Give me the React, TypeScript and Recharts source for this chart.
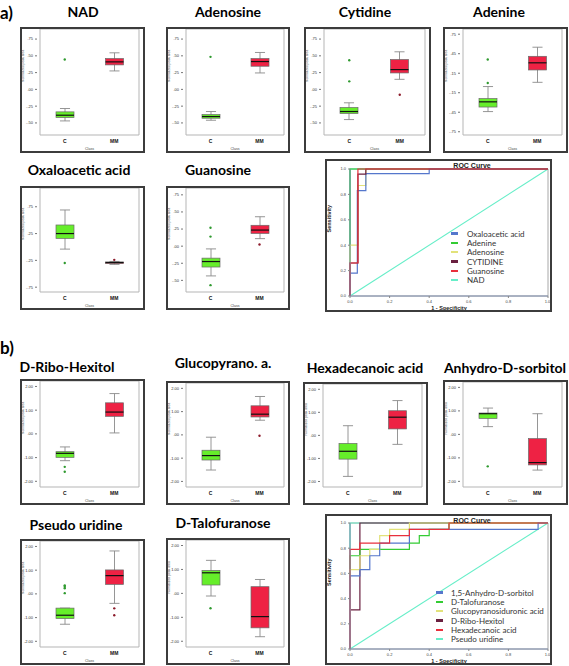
import React from "react";
import { ComposedChart, Bar, Scatter, XAxis, YAxis, ReferenceArea, LineChart, Line, Legend } from "recharts";

const CLASSES = ["C", "MM"];

// cada caja: [min, q1, mediana, q3, max] para C y MM
const nadBox = [[-0.47, -0.42, -0.385, -0.335, -0.285], [0.275, 0.365, 0.41, 0.46, 0.545]];
const nadOut = [[0.445], []];
const adenosineBox = [[-0.46, -0.43, -0.405, -0.375, -0.33], [0.245, 0.345, 0.415, 0.46, 0.55]];
const adenosineOut = [[0.485], []];
const cytidineBox = [[-0.45, -0.36, -0.33, -0.27, -0.2], [0.15, 0.245, 0.295, 0.445, 0.56]];
const cytidineOut = [[0.435, 0.12], [-0.08]];
const adenineBox = [[-0.44, -0.37, -0.29, -0.24, -0.055], [0.01, 0.2, 0.31, 0.41, 0.55]];
const adenineOut = [[0.36, 0.0], []];
const oxaloBox = [[-0.04, 0.16, 0.25, 0.41, 0.69], [-0.325, -0.31, -0.29, -0.28, -0.27]];
const oxaloOut = [[-0.3], [-0.24]];
const guanosineBox = [[-0.435, -0.305, -0.225, -0.175, -0.04], [0.11, 0.185, 0.235, 0.305, 0.43]];
const guanosineOut = [[0.27, 0.14, -0.57], [0.025]];

const riboBox = [[-1.13, -0.99, -0.82, -0.75, -0.55], [0.04, 0.74, 0.92, 1.31, 1.7]];
const riboOut = [[-1.39, -1.6], []];
const glucoBox = [[-1.51, -1.08, -0.89, -0.66, -0.1], [0.63, 0.77, 0.89, 1.25, 1.65]];
const glucoOut = [[], [-0.04]];
const hexaBox = [[-1.78, -1.03, -0.69, -0.35, 0.42], [-0.39, 0.28, 0.79, 1.07, 1.51]];
const hexaOut = [[], []];
const anhydroBox = [[0.33, 0.68, 0.88, 0.91, 1.12], [-1.52, -1.3, -1.2, -0.18, 0.88]];
const anhydroOut = [[-1.36], []];
const pseudoBox = [[-1.28, -1.04, -0.9, -0.6, -0.6], [-0.4, 0.4, 0.77, 1.01, 1.81]];
const pseudoOut = [[0.36, 0.3, 0.24, 0.03], [-0.61, -0.9]];
const taloBox = [[-0.11, 0.35, 0.86, 0.96, 1.38], [-1.81, -1.44, -0.97, 0.28, 0.58]];
const taloOut = [[-0.62], []];

const TICKS_Q = [-0.5, -0.25, 0, 0.25, 0.5, 0.75];
const TICKS_ADENINE = [-0.75, -0.45, -0.15, 0.15, 0.45, 0.75];
const TICKS_OXALO = [-0.75, -0.25, 0.25, 0.75];
const TICKS_B = [-2, -1, 0, 1, 2];
const ROC_TICKS = [0, 0.2, 0.4, 0.6, 0.8, 1];

// curvas ROC (1 - especificidad, sensibilidad)
const rocOxalo = [[0, 0], [0, 0.18], [0.037, 0.18], [0.037, 0.83], [0.08, 0.83], [0.08, 0.963], [0.4, 0.963], [0.4, 1], [1, 1]];
const rocAdenine = [[0, 0], [0, 1], [1, 1]];
const rocAdenosine = [[0, 0], [0, 0.4], [0.04, 0.4], [0.04, 0.87], [0.08, 0.87], [0.08, 1], [1, 1]];
const rocCytidine = [[0, 0], [0, 0.26], [0.04, 0.26], [0.04, 0.96], [0.08, 0.96], [0.08, 1], [1, 1]];
const rocGuanosine = [[0, 0], [0, 0.26], [0.04, 0.26], [0.04, 1], [1, 1]];
const rocNad = [[0, 0], [0, 1], [1, 1]];

const rocAnhydro = [[0, 0], [0, 0.58], [0.05, 0.58], [0.05, 0.63], [0.1, 0.63], [0.1, 0.74], [0.15, 0.74], [0.15, 0.84], [0.3, 0.84], [0.3, 0.95], [0.95, 0.95], [0.95, 1], [1, 1]];
const rocTalo = [[0, 0], [0, 0.74], [0.05, 0.74], [0.05, 0.79], [0.3, 0.79], [0.3, 0.84], [0.35, 0.84], [0.35, 0.9], [0.4, 0.9], [0.4, 0.95], [0.5, 0.95], [0.5, 1], [1, 1]];
const rocGluco = [[0, 0], [0, 0.63], [0.05, 0.63], [0.05, 0.74], [0.1, 0.74], [0.1, 0.79], [0.15, 0.79], [0.15, 0.9], [0.2, 0.9], [0.2, 0.95], [0.3, 0.95], [0.3, 1], [1, 1]];
const rocRibo = [[0, 0], [0, 0.31], [0.05, 0.31], [0.05, 1], [1, 1]];
const rocHexa = [[0, 0], [0, 0.79], [0.05, 0.79], [0.05, 0.84], [0.2, 0.84], [0.2, 0.9], [0.3, 0.9], [0.3, 0.95], [0.5, 0.95], [0.5, 1], [1, 1]];
const rocPseudo = [[0, 0], [0, 1], [1, 1]];
const rocDiag = [[0, 0], [1, 1]];

const GREEN = "#66ee2a";
const RED = "#ee2244";
const SMALL = "'Liberation Sans', Arial, sans-serif";
const TITLE = "Lato, 'Open Sans', sans-serif";

const fmtTick = (v: number) => {
  let s = Math.abs(v).toFixed(2);
  if (s.startsWith("0")) s = s.slice(1);
  return (v < 0 ? "-" : "") + s;
};

function Whisker(props: any) {
  const { x, y, width, height } = props;
  const top = Math.min(y, y + height);
  const bot = Math.max(y, y + height);
  const cx = x + width / 2;
  const cap = width * 0.28;
  return (
    <g stroke="#8a8a8a" strokeWidth={0.9}>
      <line x1={cx} x2={cx} y1={top} y2={bot} />
      <line x1={cx - cap} x2={cx + cap} y1={top} y2={top} />
      <line x1={cx - cap} x2={cx + cap} y1={bot} y2={bot} />
    </g>
  );
}

function BoxShape(props: any) {
  const { x, y, width, height, payload } = props;
  const top = Math.min(y, y + height);
  const bot = Math.max(y, y + height);
  const [lo, hi] = payload.iqr;
  const my = hi === lo ? (top + bot) / 2 : top + ((bot - top) * (hi - payload.med)) / (hi - lo);
  return (
    <g>
      <rect x={x} y={top} width={width} height={Math.max(bot - top, 0.8)} fill={payload.fill} stroke="#6a6a6a" strokeWidth={0.7} />
      <line x1={x} x2={x + width} y1={my} y2={my} stroke="#111" strokeWidth={1.2} />
    </g>
  );
}

function OutDot(props: any) {
  const { cx, cy, payload } = props;
  if (!Number.isFinite(cx) || !Number.isFinite(cy)) return <g />;
  return <circle cx={cx} cy={cy} r={1.2} fill={payload.cls === "C" ? "#2f9a2f" : "#8c1b2b"} />;
}

function BoxPanel({ p }: { p: any }) {
  const data = CLASSES.map((cls, i) => ({
    cls,
    whisk: [p.box[i][0], p.box[i][4]],
    iqr: [p.box[i][1], p.box[i][3]],
    med: p.box[i][2],
    fill: i === 0 ? GREEN : RED,
    o1: p.out[i][0],
    o2: p.out[i][1],
    o3: p.out[i][2],
    o4: p.out[i][3],
  }));
  const pad = { left: 3, right: 3 };
  return (
    <>
      <div style={{ position: "absolute", left: p.tx - 63, top: p.ty - 9, width: 126, lineHeight: "18px", textAlign: "center", whiteSpace: "nowrap", fontFamily: TITLE, fontWeight: 700, fontSize: 14 }}>
        {p.title}
      </div>
      <div style={{ position: "absolute", left: p.left, top: p.top, width: p.w, height: p.h, boxSizing: "border-box", border: "2px solid #3c3c3c", background: "#fff" }}>
        <ComposedChart width={p.w - 4} height={p.h - 4} data={data} margin={{ top: 0, right: 1, bottom: 0, left: 0 }}>
          <XAxis xAxisId="main" dataKey="cls" height={16} padding={pad} axisLine={false} tickLine={false} tickSize={2}
            tick={{ fontSize: 5, fontWeight: 700, fill: "#111", fontFamily: SMALL }}
            label={{ value: "Class", position: "insideBottom", offset: 1, fontSize: 3.6, fill: "#444", fontFamily: SMALL }} />
          <XAxis xAxisId="w" dataKey="cls" hide height={0} orientation="top" padding={pad} />
          <XAxis xAxisId="b" dataKey="cls" hide height={0} orientation="top" padding={pad} />
          <YAxis width={15} domain={p.domain} ticks={p.ticks} tickFormatter={fmtTick} axisLine={false} tickSize={2}
            tickLine={{ stroke: "#777" }} tick={{ fontSize: 4, fill: "#333", fontFamily: SMALL }}
            label={{ value: "Normalized peak area", angle: -90, position: "insideLeft", offset: 1, fontSize: 3.3, fill: "#444", fontFamily: SMALL }} />
          <ReferenceArea xAxisId="main" y1={p.domain[0]} y2={p.domain[1]} fill="#fff" fillOpacity={1} stroke="#b5b5b5" strokeWidth={1} />
          <Bar xAxisId="w" dataKey="whisk" barSize={18} shape={Whisker} isAnimationActive={false} />
          <Bar xAxisId="b" dataKey="iqr" barSize={18} shape={BoxShape} isAnimationActive={false} />
          {["o1", "o2", "o3", "o4"].map((k) => (
            <Scatter key={k} xAxisId="main" dataKey={k} shape={OutDot} isAnimationActive={false} />
          ))}
        </ComposedChart>
      </div>
    </>
  );
}

function RocLegend({ payload, order, gap }: any) {
  const items = order.map((n: string) => (payload || []).find((it: any) => it.value === n)).filter(Boolean);
  return (
    <div style={{ fontFamily: TITLE, fontSize: 8, color: "#333" }}>
      {items.map((it: any) => (
        <div key={it.value} style={{ display: "flex", alignItems: "center", height: 9.3, whiteSpace: "nowrap" }}>
          <span style={{ display: "inline-block", width: 7, height: 2.5, background: it.color, marginRight: gap }} />
          <span>{it.value}</span>
        </div>
      ))}
    </div>
  );
}

function RocPanel({ r }: { r: any }) {
  const toPts = (a: number[][]) => a.map(([x, y]) => ({ x, y }));
  const order = r.series.map((s: any) => s.name);
  return (
    <div style={{ position: "absolute", left: r.left, top: r.top, width: r.w, height: r.h, boxSizing: "border-box", border: "2px solid #3c3c3c", background: "#fff" }}>
      <div style={{ position: "absolute", left: 145 - 40, top: r.titleY, width: 80, textAlign: "center", fontFamily: SMALL, fontWeight: 700, fontSize: 7, lineHeight: "8px", color: "#222", zIndex: 2 }}>
        ROC Curve
      </div>
      <LineChart width={r.w - 4} height={r.h - 4} margin={{ top: r.mt, right: 2, bottom: 0, left: 0 }}>
        <XAxis dataKey="x" type="number" domain={[0, 1]} ticks={ROC_TICKS} tickFormatter={(v: number) => v.toFixed(1)} height={14}
          axisLine={{ stroke: "#8090b0" }} tickSize={2} tickLine={{ stroke: "#888" }} tick={{ fontSize: 4, fill: "#444", fontFamily: SMALL }}
          label={{ value: "1 - Specificity", position: "insideBottom", offset: 0, fontSize: 5.5, fontWeight: 700, fill: "#222", fontFamily: SMALL }} />
        <YAxis type="number" domain={[0, 1]} ticks={ROC_TICKS} tickFormatter={(v: number) => v.toFixed(1)} width={23}
          axisLine={{ stroke: "#8090b0" }} tickSize={2} tickLine={{ stroke: "#888" }} tick={{ fontSize: 4, fill: "#444", fontFamily: SMALL }}
          label={{ value: "Sensitivity", angle: -90, position: "insideLeft", offset: 2, fontSize: 5.5, fontWeight: 700, fill: "#222", fontFamily: SMALL }} />
        <ReferenceArea x1={0} x2={1} y1={0} y2={1} fill="none" stroke="#a8a8a8" strokeWidth={1} />
        <Line data={toPts(rocDiag)} dataKey="y" name="Reference" stroke="#66eec8" strokeWidth={1.1} dot={false} legendType="none" isAnimationActive={false} />
        {r.drawOrder.map((i: number) => {
          const s = r.series[i];
          return (
            <Line key={s.name} data={toPts(s.pts)} dataKey="y" name={s.name} stroke={s.color} strokeWidth={1.2} dot={false} type="linear" isAnimationActive={false} />
          );
        })}
        <Legend layout="vertical" align="center" verticalAlign="middle" wrapperStyle={{ left: r.lgLeft, top: r.lgTop, width: 130 }}
          content={(props: any) => <RocLegend payload={props.payload} order={order} gap={r.lgGap} />} />
      </LineChart>
    </div>
  );
}

const boxPanels = [
  { title: "NAD", box: nadBox, out: nadOut, ticks: TICKS_Q, domain: [-0.68, 0.9], left: 20, top: 27, w: 125, h: 126, tx: 83, ty: 12 },
  { title: "Adenosine", box: adenosineBox, out: adenosineOut, ticks: TICKS_Q, domain: [-0.68, 0.9], left: 166, top: 27, w: 124, h: 126, tx: 228, ty: 12 },
  { title: "Cytidine", box: cytidineBox, out: cytidineOut, ticks: TICKS_Q, domain: [-0.68, 0.9], left: 304, top: 27, w: 127, h: 126, tx: 365, ty: 12 },
  { title: "Adenine", box: adenineBox, out: adenineOut, ticks: TICKS_ADENINE, domain: [-0.8, 0.83], left: 443, top: 27, w: 125, h: 126, tx: 499, ty: 12 },
  { title: "Oxaloacetic acid", box: oxaloBox, out: oxaloOut, ticks: TICKS_OXALO, domain: [-0.84, 1.1], left: 20, top: 186, w: 125, h: 124, tx: 79, ty: 170 },
  { title: "Guanosine", box: guanosineBox, out: guanosineOut, ticks: TICKS_Q, domain: [-0.67, 0.85], left: 166, top: 186, w: 124, h: 124, tx: 218, ty: 170 },
  { title: "D-Ribo-Hexitol", box: riboBox, out: riboOut, ticks: TICKS_B, domain: [-2.24, 2.23], left: 20, top: 379, w: 125, h: 126, tx: 67, ty: 367 },
  { title: "Glucopyrano. a.", box: glucoBox, out: glucoOut, ticks: TICKS_B, domain: [-2.24, 2.23], left: 166, top: 381, w: 124, h: 124, tx: 223, ty: 363 },
  { title: "Hexadecanoic acid", box: hexaBox, out: hexaOut, ticks: TICKS_B, domain: [-2.24, 2.23], left: 303, top: 382, w: 125, h: 123, tx: 365, ty: 368 },
  { title: "Anhydro-D-sorbitol", box: anhydroBox, out: anhydroOut, ticks: TICKS_B, domain: [-2.24, 2.23], left: 443, top: 380, w: 125, h: 125, tx: 505, ty: 368 },
  { title: "Pseudo uridine", box: pseudoBox, out: pseudoOut, ticks: TICKS_B, domain: [-2.24, 2.23], left: 20, top: 539, w: 125, h: 126, tx: 76, ty: 525 },
  { title: "D-Talofuranose", box: taloBox, out: taloOut, ticks: TICKS_B, domain: [-2.24, 2.23], left: 166, top: 538, w: 124, h: 127, tx: 223, ty: 523 },
];

const rocA = {
  left: 325, top: 159, w: 227, h: 153, mt: 8, titleY: 1, lgLeft: 124, lgTop: 68, lgGap: 9,
  series: [
    { name: "Oxaloacetic acid", pts: rocOxalo, color: "#5577cc" },
    { name: "Adenine", pts: rocAdenine, color: "#33cc33" },
    { name: "Adenosine", pts: rocAdenosine, color: "#e2e27a" },
    { name: "CYTIDINE", pts: rocCytidine, color: "#6a2040" },
    { name: "Guanosine", pts: rocGuanosine, color: "#e8303c" },
    { name: "NAD", pts: rocNad, color: "#66eec8" },
  ],
  drawOrder: [5, 1, 2, 0, 3, 4],
};

const rocB = {
  left: 325, top: 514, w: 227, h: 151, mt: 7, titleY: 1, lgLeft: 109, lgTop: 72, lgGap: 8,
  series: [
    { name: "1,5-Anhydro-D-sorbitol", pts: rocAnhydro, color: "#5577cc" },
    { name: "D-Talofuranose", pts: rocTalo, color: "#33cc33" },
    { name: "Glucopyranosiduronic acid", pts: rocGluco, color: "#e2e27a" },
    { name: "D-Ribo-Hexitol", pts: rocRibo, color: "#6a2040" },
    { name: "Hexadecanoic acid", pts: rocHexa, color: "#e8303c" },
    { name: "Pseudo uridine", pts: rocPseudo, color: "#66eec8" },
  ],
  drawOrder: [5, 3, 1, 2, 0, 4],
};

export default function App() {
  return (
    <div style={{ position: "absolute", left: 0, top: 0, width: 569, height: 666, background: "#fff", overflow: "hidden" }}>
      <div style={{ position: "absolute", left: 0, top: 2, fontFamily: TITLE, fontWeight: 700, fontSize: 17 }}>a)</div>
      <div style={{ position: "absolute", left: 0, top: 337, fontFamily: TITLE, fontWeight: 700, fontSize: 17 }}>b)</div>
      {boxPanels.map((p) => (
        <BoxPanel key={p.title} p={p} />
      ))}
      <RocPanel r={rocA} />
      <RocPanel r={rocB} />
    </div>
  );
}
